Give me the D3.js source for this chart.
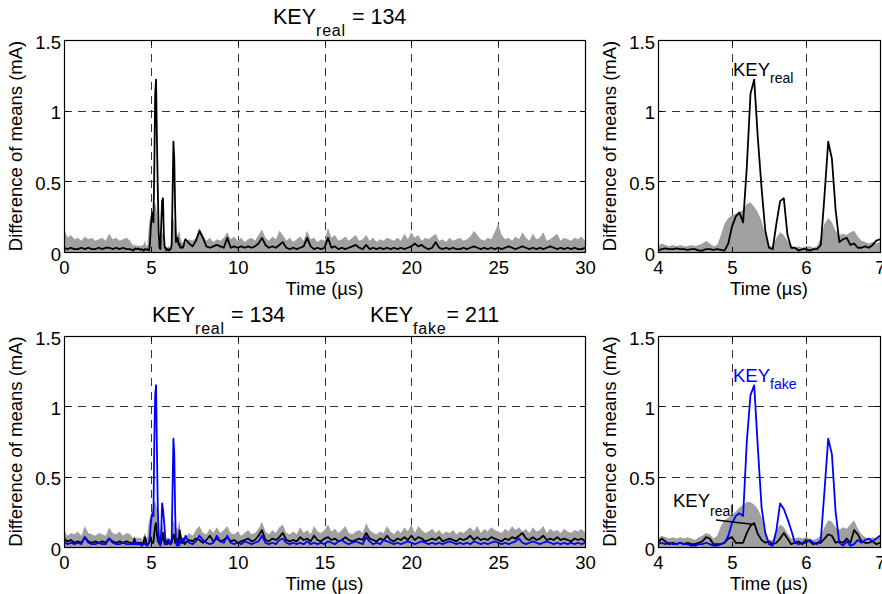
<!DOCTYPE html>
<html>
<head>
<meta charset="utf-8">
<script src="https://cdn.jsdelivr.net/npm/d3@7"></script>
<style>
body { margin: 0; background: #fff; }
text { font-family: "Liberation Sans", Arial, Helvetica, sans-serif; fill: #000; }
</style>
</head>
<body>
<div id="chart"></div>
<script>
// sampling: 0..3.8 every 0.2, 4..7 every 0.05, 7.2..30 every 0.2
var headT = d3.range(20).map(function(i){ return i * 0.2; });
var midT = d3.range(61).map(function(i){ return 4 + i * 0.05; });
var tailT = d3.range(115).map(function(i){ return 7.2 + i * 0.2; });
var timeUs = headT.concat(midT, tailT);

var xTicksFull = [0, 5, 10, 15, 20, 25, 30];
var xTicksZoom = [4, 5, 6, 7];
var yTicks = [0, 0.5, 1, 1.5];

// ---- top row: max over other key guesses (grey) and real key (black)
var topOthers = [
  // 0 - 3.8
  0.17,0.1,0.12,0.09,0.1,0.08,0.11,0.09,0.1,0.08, 0.09,0.1,0.08,0.13,0.09,0.1,0.08,0.09,0.1,0.08,
  // 4 - 7 (0.05)
  0.04,0.06,0.05,0.04,0.05,0.04,0.05,0.04,0.04,0.05,
  0.04,0.05,0.06,0.08,0.06,0.04,0.05,0.12,0.2,0.24,
  0.26,0.27,0.28,0.3,0.34,0.35,0.32,0.28,0.22,0.12,
  0.04,0.04,0.1,0.14,0.12,0.08,0.04,0.03,0.04,0.03,
  0.04,0.04,0.03,0.04,0.1,0.2,0.24,0.21,0.15,0.12,
  0.13,0.12,0.14,0.15,0.11,0.08,0.07,0.06,0.07,0.06,
  0.07,
  // 7.2 - 30
  0.09,0.08,0.1,0.17,0.12,0.08,0.1,0.07,0.09,0.08,
  0.1,0.14,0.09,0.11,0.08,0.1,0.07,0.09,0.1,0.08,
  0.12,0.16,0.1,0.08,0.11,0.09,0.15,0.12,0.08,0.1,
  0.07,0.09,0.11,0.08,0.15,0.09,0.1,0.07,0.09,0.08,
  0.17,0.1,0.12,0.08,0.09,0.11,0.08,0.1,0.12,0.08,
  0.09,0.12,0.08,0.1,0.07,0.09,0.08,0.1,0.09,0.08,
  0.1,0.08,0.13,0.09,0.14,0.1,0.12,0.08,0.1,0.09,
  0.11,0.13,0.08,0.09,0.07,0.1,0.08,0.09,0.1,0.08,
  0.09,0.11,0.15,0.12,0.09,0.08,0.1,0.09,0.14,0.2,
  0.12,0.09,0.1,0.08,0.11,0.09,0.14,0.1,0.08,0.13,
  0.09,0.1,0.14,0.08,0.09,0.11,0.13,0.08,0.1,0.09,
  0.08,0.1,0.09,0.11,0.08
];

var topReal = [
  0.03,0.02,0.03,0.02,0.02,0.03,0.02,0.03,0.02,0.02, 0.03,0.02,0.03,0.03,0.02,0.03,0.02,0.03,0.02,0.02,
  0.01,0.02,0.025,0.02,0.02,0.025,0.02,0.02,0.015,0.02,
  0.02,0.01,0.01,0.02,0.02,0.015,0.02,0.015,0.01,0.06,
  0.18,0.25,0.28,0.21,0.6,1.12,1.22,0.8,0.45,0.15,
  0.03,0.02,0.2,0.36,0.38,0.12,0.03,0.03,0.01,0.02,
  0.02,0.01,0.02,0.02,0.05,0.4,0.78,0.66,0.3,0.07,
  0.09,0.1,0.05,0.06,0.03,0.03,0.04,0.03,0.05,0.08,
  0.09,
  0.06,0.04,0.08,0.15,0.1,0.04,0.03,0.04,0.05,0.04,
  0.03,0.1,0.03,0.04,0.03,0.04,0.03,0.04,0.03,0.04,
  0.06,0.1,0.05,0.03,0.04,0.03,0.05,0.07,0.03,0.02,
  0.03,0.02,0.03,0.04,0.1,0.04,0.02,0.03,0.02,0.03,
  0.1,0.03,0.04,0.02,0.03,0.02,0.03,0.04,0.05,0.03,
  0.02,0.05,0.02,0.03,0.02,0.03,0.02,0.03,0.02,0.03,
  0.02,0.03,0.02,0.03,0.04,0.06,0.04,0.05,0.03,0.02,
  0.03,0.07,0.03,0.02,0.03,0.02,0.03,0.02,0.02,0.03,
  0.02,0.03,0.04,0.03,0.02,0.03,0.02,0.03,0.02,0.03,
  0.02,0.03,0.04,0.03,0.02,0.03,0.04,0.03,0.02,0.03,
  0.02,0.03,0.02,0.03,0.04,0.03,0.02,0.03,0.02,0.03,
  0.02,0.03,0.02,0.02,0.03
];

// ---- bottom row: others (grey), real key (black), fake key (blue)
var botOthers = [
  0.12,0.08,0.1,0.09,0.11,0.08,0.15,0.1,0.09,0.08, 0.1,0.09,0.08,0.14,0.1,0.09,0.11,0.08,0.1,0.09,
  0.06,0.08,0.07,0.06,0.07,0.06,0.07,0.06,0.07,0.06,
  0.05,0.07,0.08,0.1,0.09,0.06,0.08,0.15,0.19,0.21,
  0.23,0.25,0.28,0.3,0.32,0.32,0.3,0.27,0.21,0.12,
  0.05,0.05,0.12,0.16,0.14,0.1,0.06,0.06,0.07,0.06,
  0.07,0.06,0.05,0.06,0.08,0.14,0.19,0.18,0.14,0.12,
  0.14,0.13,0.16,0.19,0.13,0.09,0.07,0.06,0.07,0.06,
  0.07,
  0.1,0.08,0.12,0.15,0.1,0.09,0.13,0.1,0.14,0.1,
  0.12,0.15,0.1,0.09,0.11,0.08,0.1,0.12,0.09,0.1,
  0.13,0.18,0.11,0.09,0.12,0.1,0.14,0.16,0.1,0.09,
  0.11,0.09,0.14,0.1,0.12,0.09,0.15,0.11,0.1,0.12,
  0.16,0.11,0.13,0.1,0.12,0.15,0.1,0.09,0.11,0.12,
  0.1,0.17,0.12,0.1,0.09,0.11,0.1,0.15,0.11,0.09,
  0.12,0.1,0.14,0.11,0.16,0.1,0.15,0.12,0.1,0.11,
  0.13,0.1,0.12,0.09,0.11,0.1,0.12,0.09,0.11,0.1,
  0.12,0.14,0.11,0.15,0.1,0.13,0.11,0.14,0.12,0.11,
  0.1,0.13,0.11,0.15,0.12,0.14,0.11,0.13,0.1,0.14,
  0.11,0.12,0.15,0.1,0.13,0.11,0.12,0.1,0.13,0.11,
  0.1,0.12,0.11,0.13,0.1
];

var botReal = [
  0.06,0.04,0.05,0.03,0.04,0.03,0.07,0.04,0.03,0.04, 0.03,0.04,0.03,0.06,0.04,0.03,0.04,0.03,0.04,0.03,
  0.03,0.06,0.04,0.02,0.03,0.02,0.03,0.02,0.03,0.02,
  0.02,0.03,0.04,0.07,0.06,0.02,0.02,0.02,0.03,0.06,
  0.07,0.03,0.03,0.03,0.1,0.15,0.17,0.09,0.05,0.03,
  0.04,0.02,0.03,0.06,0.1,0.06,0.02,0.03,0.04,0.02,
  0.05,0.04,0.02,0.03,0.03,0.06,0.09,0.08,0.03,0.04,
  0.03,0.06,0.03,0.12,0.09,0.04,0.03,0.03,0.04,0.02,
  0.03,
  0.05,0.04,0.06,0.05,0.03,0.05,0.08,0.04,0.06,0.04,
  0.05,0.07,0.04,0.05,0.03,0.04,0.05,0.06,0.04,0.05,
  0.08,0.12,0.05,0.04,0.06,0.05,0.07,0.1,0.05,0.04,
  0.05,0.04,0.07,0.05,0.06,0.04,0.08,0.05,0.04,0.06,
  0.07,0.05,0.06,0.04,0.05,0.07,0.05,0.04,0.05,0.06,
  0.05,0.1,0.06,0.05,0.04,0.06,0.05,0.08,0.05,0.04,
  0.06,0.05,0.07,0.05,0.08,0.05,0.07,0.06,0.04,0.05,
  0.06,0.05,0.07,0.04,0.05,0.06,0.05,0.04,0.06,0.05,
  0.06,0.08,0.05,0.07,0.05,0.06,0.05,0.07,0.06,0.05,
  0.04,0.06,0.05,0.07,0.06,0.08,0.1,0.06,0.05,0.07,
  0.05,0.06,0.08,0.05,0.06,0.05,0.07,0.05,0.06,0.05,
  0.04,0.06,0.05,0.06,0.04
];

var botFake = [
  0.04,0.02,0.03,0.02,0.03,0.02,0.07,0.03,0.02,0.02, 0.03,0.02,0.02,0.06,0.03,0.02,0.02,0.03,0.02,0.02,
  0.02,0.03,0.02,0.03,0.02,0.02,0.03,0.02,0.02,0.01,
  0.01,0.02,0.02,0.03,0.02,0.01,0.01,0.02,0.03,0.08,
  0.17,0.22,0.24,0.22,0.75,1.08,1.15,0.7,0.28,0.1,
  0.02,0.01,0.12,0.31,0.27,0.2,0.12,0.03,0.02,0.03,
  0.03,0.05,0.03,0.02,0.05,0.4,0.77,0.66,0.25,0.03,
  0.01,0.04,0.01,0.02,0.05,0.03,0.05,0.06,0.04,0.06,
  0.08,
  0.03,0.02,0.04,0.08,0.05,0.03,0.02,0.03,0.08,0.04,
  0.03,0.08,0.03,0.02,0.03,0.02,0.04,0.03,0.02,0.03,
  0.04,0.08,0.03,0.02,0.03,0.02,0.05,0.06,0.03,0.02,
  0.03,0.02,0.03,0.02,0.04,0.02,0.03,0.02,0.03,0.02,
  0.04,0.03,0.02,0.04,0.05,0.03,0.02,0.03,0.04,0.03,
  0.02,0.07,0.04,0.02,0.03,0.02,0.05,0.04,0.03,0.02,
  0.03,0.02,0.03,0.04,0.03,0.02,0.03,0.04,0.03,0.02,
  0.03,0.02,0.03,0.02,0.03,0.04,0.03,0.02,0.03,0.02,
  0.03,0.02,0.04,0.03,0.02,0.03,0.02,0.03,0.04,0.03,
  0.02,0.03,0.02,0.03,0.04,0.06,0.03,0.02,0.03,0.04,
  0.03,0.02,0.03,0.04,0.03,0.02,0.03,0.02,0.03,0.02,
  0.03,0.02,0.03,0.02,0.03
];

var greyFill = "#a0a0a0", blue = "#0000ff";
var fontTick = 18.5;

var svg = d3.select("#chart").append("svg")
    .attr("width", 882)
    .attr("height", 594);

function toPoints(vals){
    return timeUs.map(function(t, i){ return { t: t, v: vals[i] }; });
}

var clipId = 0;
function drawPanel(cfg){
    var x = d3.scaleLinear().domain(cfg.xDomain).range([cfg.left, cfg.right]);
    var y = d3.scaleLinear().domain([0, 1.5]).range([cfg.bottom, cfg.top]);
    var g = svg.append("g");

    clipId += 1;
    var cid = "clip" + clipId;
    g.append("clipPath").attr("id", cid)
        .append("rect")
        .attr("x", cfg.left).attr("y", cfg.top)
        .attr("width", cfg.right - cfg.left).attr("height", cfg.bottom - cfg.top);

    var plot = g.append("g").attr("clip-path", "url(#" + cid + ")");

    // dashed grid
    plot.selectAll(".gx").data(cfg.xTicks.slice(1, -1)).enter().append("line")
        .attr("x1", function(d){ return Math.round(x(d)) + 0.5; })
        .attr("x2", function(d){ return Math.round(x(d)) + 0.5; })
        .attr("y1", cfg.top).attr("y2", cfg.bottom)
        .attr("stroke", "#333").attr("stroke-dasharray", "8,6");
    plot.selectAll(".gy").data(yTicks.slice(1, -1)).enter().append("line")
        .attr("y1", function(d){ return Math.round(y(d)) + 0.5; })
        .attr("y2", function(d){ return Math.round(y(d)) + 0.5; })
        .attr("x1", cfg.left).attr("x2", cfg.right)
        .attr("stroke", "#333").attr("stroke-dasharray", "8,6");

    var area = d3.area()
        .x(function(d){ return x(d.t); })
        .y0(y(0))
        .y1(function(d){ return y(d.v); });
    plot.append("path")
        .datum(toPoints(cfg.others))
        .attr("fill", greyFill)
        .attr("d", area);

    var line = d3.line()
        .x(function(d){ return x(d.t); })
        .y(function(d){ return y(d.v); });
    cfg.lines.forEach(function(s){
        plot.append("path")
            .datum(toPoints(s.values))
            .attr("fill", "none")
            .attr("stroke", s.color)
            .attr("stroke-width", 1.8)
            .attr("stroke-linejoin", "round")
            .attr("d", line);
    });

    // frame
    g.append("rect")
        .attr("x", cfg.left + 0.5).attr("y", cfg.top + 0.5)
        .attr("width", cfg.right - cfg.left).attr("height", cfg.bottom - cfg.top)
        .attr("fill", "none").attr("stroke", "#000").attr("stroke-width", 1.2);

    // inward ticks
    cfg.xTicks.forEach(function(d){
        var px = Math.round(x(d)) + 0.5;
        g.append("line").attr("x1", px).attr("x2", px)
            .attr("y1", cfg.bottom).attr("y2", cfg.bottom - 5).attr("stroke", "#000");
        g.append("line").attr("x1", px).attr("x2", px)
            .attr("y1", cfg.top).attr("y2", cfg.top + 5).attr("stroke", "#000");
    });
    yTicks.forEach(function(d){
        var py = Math.round(y(d)) + 0.5;
        g.append("line").attr("y1", py).attr("y2", py)
            .attr("x1", cfg.left).attr("x2", cfg.left + 5).attr("stroke", "#000");
        g.append("line").attr("y1", py).attr("y2", py)
            .attr("x1", cfg.right).attr("x2", cfg.right - 5).attr("stroke", "#000");
    });

    // tick labels through d3 axes
    var ax = g.append("g")
        .attr("transform", "translate(0," + cfg.bottom + ")")
        .call(d3.axisBottom(x).tickValues(cfg.xTicks).tickSize(0).tickPadding(9).tickFormat(d3.format("d")));
    var ay = g.append("g")
        .attr("transform", "translate(" + cfg.left + ",0)")
        .call(d3.axisLeft(y).tickValues(yTicks).tickSize(0).tickPadding(3).tickFormat(function(d){ return String(d); }));
    [ax, ay].forEach(function(a){
        a.select(".domain").remove();
        a.selectAll("text").attr("font-size", fontTick)
            .attr("font-family", "'Liberation Sans', Arial, sans-serif").attr("fill", "#000");
    });
    ay.selectAll("text").attr("dy", "0.45em");

    g.append("text")
        .attr("x", (cfg.left + cfg.right) / 2)
        .attr("y", cfg.bottom + 43)
        .attr("text-anchor", "middle")
        .attr("font-size", fontTick)
        .text("Time (\u00b5s)");

    g.append("text")
        .attr("transform", "translate(" + cfg.ylabelX + "," + ((cfg.top + cfg.bottom) / 2) + ") rotate(-90)")
        .attr("text-anchor", "middle")
        .attr("font-size", fontTick)
        .text("Difference of means (mA)");

    return { x: x, y: y };
}

// text with a subscript: KEY_sub + rest
function keyLabel(x0, y0, sub, rest, size, subSize, subShift, spacing, color){
    var t = svg.append("text")
        .attr("x", x0).attr("y", y0)
        .attr("font-size", size)
        .style("fill", color || "#000");
    t.append("tspan").text("KEY");
    t.append("tspan").attr("dy", subShift).attr("font-size", subSize)
        .attr("letter-spacing", spacing).text(sub);
    if (rest) t.append("tspan").attr("dy", -subShift).text(rest);
    return t;
}

var tl = drawPanel({ left: 64, right: 585, top: 40, bottom: 252, xDomain: [0, 30], xTicks: xTicksFull,
    ylabelX: 22, others: topOthers, lines: [{ values: topReal, color: "#000" }] });
var tr = drawPanel({ left: 658, right: 880, top: 40, bottom: 252, xDomain: [4, 7], xTicks: xTicksZoom,
    ylabelX: 616, others: topOthers, lines: [{ values: topReal, color: "#000" }] });
var bl = drawPanel({ left: 64, right: 585, top: 336, bottom: 547, xDomain: [0, 30], xTicks: xTicksFull,
    ylabelX: 22, others: botOthers, lines: [{ values: botReal, color: "#000" }, { values: botFake, color: blue }] });
var br = drawPanel({ left: 658, right: 880, top: 336, bottom: 547, xDomain: [4, 7], xTicks: xTicksZoom,
    ylabelX: 616, others: botOthers, lines: [{ values: botReal, color: "#000" }, { values: botFake, color: blue }] });

// titles
keyLabel(273, 24, "real", " = 134", 21.5, 16, 12, 0.8);
keyLabel(152, 322, "real", " = 134", 21.5, 16, 12, 0.8);
keyLabel(370, 322, "fake", "= 211", 21.5, 16, 12, 0.8);

// annotations on zoomed panels
keyLabel(733, 76, "real", null, 18.5, 14, 7, 0);
keyLabel(733, 382, "fake", null, 18.5, 14, 7, 0, blue);
keyLabel(673, 507, "real", null, 18.5, 14, 9, 0);
svg.append("line")
    .attr("x1", 716).attr("y1", 520)
    .attr("x2", br.x(5.3)).attr("y2", br.y(0.16))
    .attr("stroke", "#000").attr("stroke-width", 1.5);
</script>
</body>
</html>
